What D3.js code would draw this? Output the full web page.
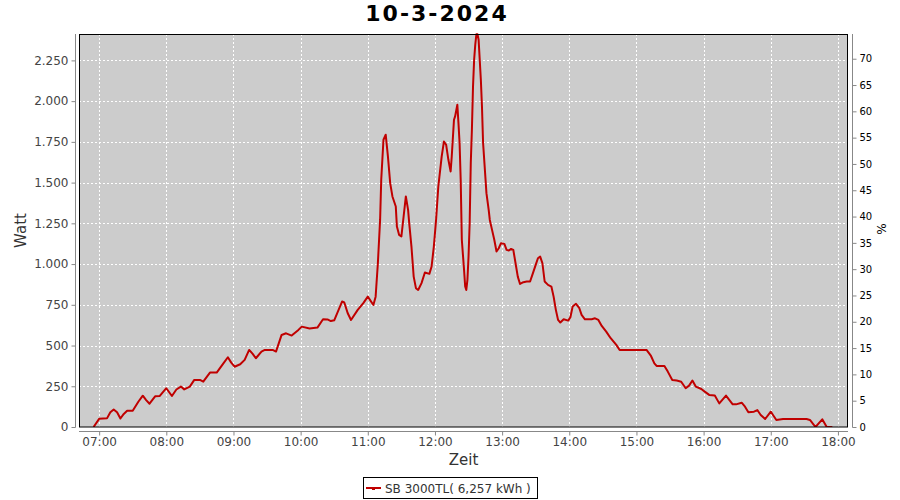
<!DOCTYPE html>
<html><head><meta charset="utf-8">
<script src="https://cdn.jsdelivr.net/npm/d3@7/dist/d3.min.js"></script>
<style>body{margin:0;background:#fff}svg{display:block}text{font-family:"DejaVu Sans",sans-serif}</style>
</head><body><svg id="c" width="900" height="500"></svg>
<script>
const title = "10-3-2024";
const seriesName = "SB 3000TL( 6,257 kWh )";
const times = ["06:55","07:00","07:07","07:10","07:13","07:16","07:19","07:22","07:25","07:30","07:35","07:39","07:42","07:45","07:50","07:54","08:00","08:05","08:09","08:13","08:16","08:21","08:25","08:30","08:33","08:39","08:45","08:51","08:55","08:58","09:01","09:06","09:10","09:14","09:17","09:20","09:25","09:28","09:35","09:38","09:43","09:47","09:52","09:58","10:01","10:08","10:15","10:20","10:24","10:27","10:30","10:34","10:37","10:39","10:42","10:45","10:51","10:56","11:00","11:05","11:07","11:09","11:11","11:12","11:14","11:16","11:18","11:20","11:22","11:25","11:26","11:28","11:30","11:32","11:34","11:36","11:37","11:39","11:41","11:43","11:45","11:48","11:51","11:55","11:57","11:59","12:01","12:03","12:06","12:08","12:10","12:12","12:14","12:15","12:17","12:18","12:20","12:21","12:22","12:23","12:24","12:26","12:27","12:28","12:29","12:30","12:31","12:32","12:33","12:34","12:35","12:36","12:37","12:38","12:39","12:41","12:42","12:43","12:45","12:46","12:48","12:49","12:51","12:53","12:55","12:57","12:59","13:02","13:04","13:06","13:08","13:10","13:12","13:14","13:16","13:19","13:22","13:25","13:27","13:30","13:32","13:34","13:36","13:38","13:41","13:44","13:46","13:48","13:50","13:52","13:55","13:59","14:01","14:03","14:06","14:09","14:11","14:14","14:20","14:23","14:26","14:29","14:33","14:37","14:42","14:45","15:09","15:13","15:16","15:18","15:25","15:28","15:32","15:36","15:40","15:44","15:47","15:50","15:53","15:58","16:01","16:05","16:10","16:14","16:20","16:26","16:29","16:34","16:37","16:40","16:45","16:48","16:51","16:55","17:00","17:02","17:05","17:11","17:32","17:35","17:40","17:46","17:50","17:55"];
const watt = [0,50,53,90,107,90,52,80,100,100,155,192,165,143,188,190,238,190,230,248,231,248,289,289,278,334,334,391,428,395,370,385,412,473,450,422,463,473,473,463,565,575,561,596,616,605,610,661,660,650,655,720,770,764,700,657,719,760,800,749,800,1005,1271,1517,1763,1794,1660,1497,1415,1353,1230,1179,1169,1292,1415,1333,1251,1107,923,852,841,883,948,940,985,1107,1271,1476,1660,1752,1732,1640,1568,1660,1886,1906,1978,1865,1743,1517,1149,964,862,841,903,1046,1251,1620,1824,2090,2254,2346,2410,2410,2377,2131,1967,1743,1538,1435,1333,1271,1210,1149,1077,1097,1128,1124,1087,1083,1093,1087,1005,923,878,889,893,893,934,995,1036,1046,1005,893,872,862,800,719,657,641,661,653,674,739,756,729,688,661,661,667,657,620,585,545,504,473,473,436,391,375,375,340,289,285,278,238,254,285,248,233,217,197,193,145,193,139,139,149,125,90,94,104,74,49,94,74,43,49,49,43,0,47,0,0];
const xTickLabels = ["07:00","08:00","09:00","10:00","11:00","12:00","13:00","14:00","15:00","16:00","17:00","18:00"];
const yTicks = [0,250,500,750,1000,1250,1500,1750,2000,2250];
const pctTicks = [0,5,10,15,20,25,30,35,40,45,50,55,60,65,70];

const svg = d3.select("#c");
const L = 79, T = 34, R = 848, B = 427;
const parse = d3.timeParse("%H:%M");
const x = d3.scaleTime().domain([parse("06:42"), parse("18:09")]).range([L, R]);
const y = d3.scaleLinear().domain([0, 2412]).range([B, T]);
const yp = d3.scaleLinear().domain([0, 74.7]).range([B, T]);
const de = d3.formatLocale({decimal: ",", thousands: ".", grouping: [3], currency: ["", "€"]});
const fmt = de.format(",d");
const xTicks = xTickLabels.map(parse);

// plot background
svg.append("rect").attr("x", L).attr("y", T).attr("width", R - L).attr("height", B - T).attr("fill", "#cccccc");
// grid
const g = svg.append("g").attr("stroke", "#fff").attr("stroke-dasharray", "2,2").attr("stroke-width", 1);
xTicks.forEach(t => g.append("line").attr("x1", Math.round(x(t)) + 0.5).attr("x2", Math.round(x(t)) + 0.5).attr("y1", T).attr("y2", B));
yTicks.forEach(v => g.append("line").attr("y1", Math.round(y(v)) + 0.5).attr("y2", Math.round(y(v)) + 0.5).attr("x1", L).attr("x2", R));

// data line
const data = times.map((t, i) => ({t: parse(t), v: watt[i]}));
svg.append("defs").append("clipPath").attr("id", "clip").append("rect").attr("x", L).attr("y", T - 1).attr("width", R - L).attr("height", B - T + 1);
svg.append("path").datum(data).attr("clip-path", "url(#clip)")
  .attr("d", d3.line().x(d => x(d.t)).y(d => y(d.v)))
  .attr("fill", "none").attr("stroke", "#c00000").attr("stroke-width", 2).attr("stroke-linejoin", "round");

// border
svg.append("rect").attr("x", L + 0.5).attr("y", T + 0.5).attr("width", R - L - 1).attr("height", B - T - 0.5).attr("fill", "none").attr("stroke", "#000");

// left axis
const ax = svg.append("g").attr("transform", `translate(75.5,0)`)
  .call(d3.axisLeft(y).tickValues(yTicks).tickFormat(fmt).tickSize(4).tickPadding(3).tickSizeOuter(0));
ax.select(".domain").attr("d", `M0,${T}V${B + 0.5}`);
// bottom axis
const bx = svg.append("g").attr("transform", `translate(0,431.5)`)
  .call(d3.axisBottom(x).tickValues(xTicks).tickFormat(d3.timeFormat("%H:%M")).tickSize(4).tickPadding(2).tickSizeOuter(0));
bx.select(".domain").attr("d", `M${L},0H${R}`);
// right axis
const rx = svg.append("g").attr("transform", `translate(852.5,0)`)
  .call(d3.axisRight(yp).tickValues(pctTicks).tickSize(4).tickPadding(3).tickSizeOuter(0));
rx.select(".domain").attr("d", `M0,${T}V${B + 0.5}`);
[ax, bx].forEach(a => {
  a.selectAll(".domain, .tick line").attr("stroke", "#888");
  a.selectAll("text").attr("font-family", "DejaVu Sans").attr("font-size", 12).attr("fill", "#444");
});
rx.selectAll(".domain, .tick line").attr("stroke", "#888");
rx.selectAll("text").attr("font-family", "DejaVu Sans").attr("font-size", 10).attr("fill", "#000");

// titles
svg.append("text").attr("x", 437).attr("y", 21).attr("text-anchor", "middle").attr("font-size", 22).attr("letter-spacing", 2).attr("font-weight", "bold").attr("fill", "#000").text(title);
svg.append("text").attr("x", 463.5).attr("y", 465).attr("text-anchor", "middle").attr("font-size", 15).attr("fill", "#333").text("Zeit");
svg.append("text").attr("transform", "translate(26,230.5) rotate(-90)").attr("text-anchor", "middle").attr("font-size", 15).attr("fill", "#333").text("Watt");
svg.append("text").attr("transform", "translate(886,229) rotate(-90)").attr("text-anchor", "middle").attr("font-size", 12).attr("fill", "#000").text("%");

// legend
const lg = svg.append("g");
lg.append("rect").attr("x", 363.5).attr("y", 477.5).attr("width", 174).attr("height", 21).attr("fill", "#fff").attr("stroke", "#000");
lg.append("line").attr("x1", 366).attr("x2", 381).attr("y1", 488).attr("y2", 488).attr("stroke", "#c00000").attr("stroke-width", 2);
lg.append("rect").attr("x", 372).attr("y", 487).attr("width", 3).attr("height", 3).attr("fill", "#c00000");
lg.append("text").attr("x", 385).attr("y", 492.5).attr("font-size", 12).attr("fill", "#333").text(seriesName);
</script></body></html>
